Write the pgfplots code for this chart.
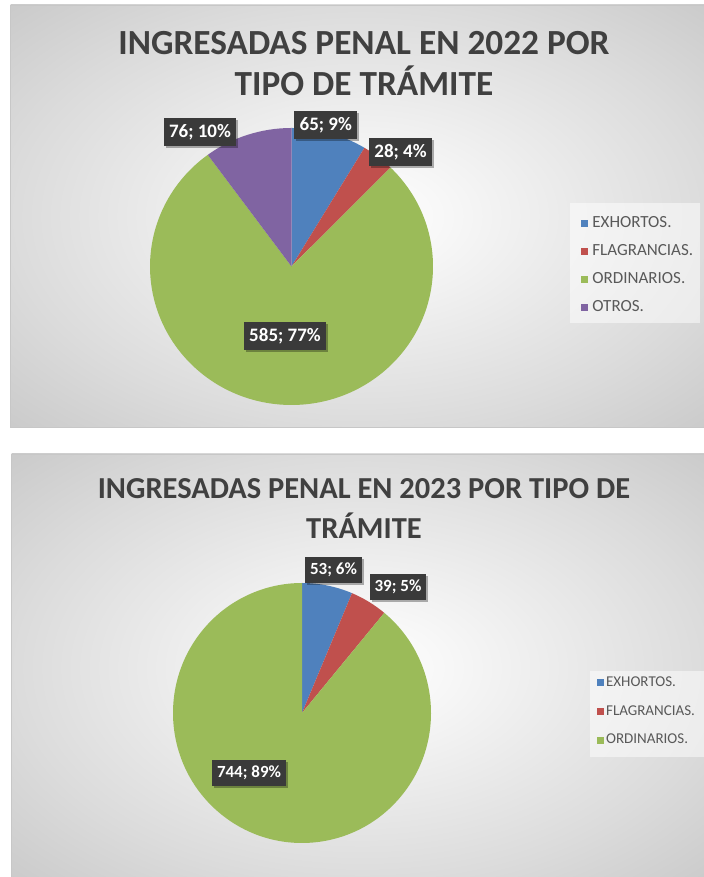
\documentclass[border=0pt]{standalone}
\usepackage{fontspec}
\setmainfont{Carlito}
\usepackage{pgfplots}
\pgfplotsset{compat=1.18}
\usepackage{pgfplotstable}
\usetikzlibrary{shadows}

\definecolor{cBlue}{HTML}{4F81BD}
\definecolor{cRed}{HTML}{C0504D}
\definecolor{cGreen}{HTML}{9BBB59}
\definecolor{cPurple}{HTML}{8064A2}
\definecolor{titlegray}{HTML}{404040}
\definecolor{leggray}{HTML}{595959}
\definecolor{labelbg}{HTML}{3A3A3A}

\pgfdeclareradialshading{panelshade}{\pgfpoint{0bp}{0bp}}{%
  color(0bp)=(white); color(6bp)=(white!97!black);
  color(25bp)=(white!86!black); color(36bp)=(white!79!black);
  color(50bp)=(white!79!black)}

% ---- data -------------------------------------------------------
\pgfplotstableread{
tipo value
EXHORTOS. 65
FLAGRANCIAS. 28
ORDINARIOS. 585
OTROS. 76
}\dataA

\pgfplotstableread{
tipo value
EXHORTOS. 53
FLAGRANCIAS. 39
ORDINARIOS. 744
}\dataB

% ---- slice angles from the data (Excel: start at 12 o'clock, clockwise)
\newcommand\pieangles[2]{%
  \pgfplotstablegetrowsof{#1}\edef\pieN{\pgfplotsretval}%
  \pgfmathsetmacro\pieTot{0}%
  \pgfplotsforeachungrouped \pieI in {1,...,\pieN}{%
    \pgfmathtruncatemacro\pieR{\pieI-1}%
    \pgfplotstablegetelem{\pieR}{value}\of{#1}%
    \pgfmathsetmacro\pieTot{\pieTot+\pgfplotsretval}%
  }%
  \pgfmathsetmacro\pieCum{0}%
  \pgfplotsforeachungrouped \pieI in {1,...,\pieN}{%
    \pgfmathtruncatemacro\pieR{\pieI-1}%
    \pgfplotstablegetelem{\pieR}{value}\of{#1}%
    \pgfmathsetmacro\pieS{90-360*(\pieCum/\pieTot)}%
    \pgfmathsetmacro\pieCum{\pieCum+\pgfplotsretval}%
    \pgfmathsetmacro\pieE{90-360*(\pieCum/\pieTot)}%
    \expandafter\xdef\csname #2s\pieR\endcsname{\pieS}%
    \expandafter\xdef\csname #2e\pieR\endcsname{\pieE}%
  }%
}
\pieangles{\dataA}{pa}
\pieangles{\dataB}{pb}
\newcommand\ang[1]{\csname #1\endcsname}

% \slice{colour}{cx}{cy}{rx}{ry}{start}{end}
\newcommand\slice[7]{%
  \fill[#1] (axis cs:#2,#3) -- (axis cs:{#2+#4*cos(#6)},{#3+#5*sin(#6)})
    arc[start angle=#6, end angle=#7, x radius=#4bp, y radius=#5bp] -- cycle;}

\tikzset{
  lblA/.style={fill=labelbg, text=white, font=\bfseries\fontsize{19bp}{19bp}\selectfont,
    inner xsep=5.5bp, inner ysep=0bp, minimum height=28bp,
    general shadow={fill=black, fill opacity=0.3, shadow xshift=2bp, shadow yshift=-2bp}},
  lblB/.style={fill=labelbg, text=white, font=\bfseries\fontsize{17bp}{17bp}\selectfont,
    inner xsep=5bp, inner ysep=0bp, minimum height=26bp,
    general shadow={fill=black, fill opacity=0.3, shadow xshift=2bp, shadow yshift=-2bp}},
}

\pgfplotsset{
  panel/.style={scale only axis, width=704bp, height=877bp,
    xmin=0, xmax=704, ymin=0, ymax=877, enlargelimits=false,
    hide axis, clip=false, legend cell align=left,
    legend image code/.code={\fill[##1, draw=none] (0bp,-3.6bp) rectangle (7.2bp,3.6bp);}},
}

\begin{document}
\begin{tikzpicture}
\path[use as bounding box, clip] (0,0) rectangle (704bp,877bp);
\fill[white] (0,0) rectangle (704bp,877bp);

% ================= 2022 =================
\begin{axis}[panel,
  legend style={at={(axis description cs:0.82528,0.75485)}, anchor=north west,
    draw=none, fill=none, inner sep=0pt, row sep=12bp,
    font=\fontsize{17bp}{17bp}\selectfont, text=leggray,
    nodes={inner sep=0pt, text height=12bp, text depth=4bp},
    /tikz/every odd column/.append style={column sep=4bp}}]
  \shade[shading=panelshade] (axis cs:10.5,449.5) rectangle (axis cs:712,872);
  \draw[white!78!black, line width=0.8bp] (axis cs:10.5,449.5) rectangle (axis cs:712,872);

  \node[font=\bfseries\fontsize{35.3bp}{35bp}\selectfont, text=titlegray, anchor=base]
    at (axis cs:364,822) {INGRESADAS PENAL EN 2022 POR};
  \node[font=\bfseries\fontsize{35.3bp}{35bp}\selectfont, text=titlegray, anchor=base]
    at (axis cs:364,781) {TIPO DE TRÁMITE};

  \fill[white, fill opacity=0.5] (axis cs:570,554) rectangle (axis cs:700,674);

  \slice{cBlue}{291.5}{610.5}{141.5}{138.5}{\ang{pas0}}{\ang{pae0}}
  \slice{cRed}{291.5}{610.5}{141.5}{138.5}{\ang{pas1}}{\ang{pae1}}
  \slice{cGreen}{291.5}{610.5}{141.5}{138.5}{\ang{pas2}}{\ang{pae2}}
  \slice{cPurple}{291.5}{610.5}{141.5}{138.5}{\ang{pas3}}{\ang{pae3}}

  \node[lblA] at (axis cs:325.8,751.5) {65; 9\%};
  \node[lblA] at (axis cs:400.5,725) {28; 4\%};
  \node[lblA] at (axis cs:200,744.5) {76; 10\%};
  \node[lblA] at (axis cs:285,541) {585; 77\%};

  \addlegendimage{fill=cBlue}\addlegendentry{EXHORTOS.}
  \addlegendimage{fill=cRed}\addlegendentry{FLAGRANCIAS.}
  \addlegendimage{fill=cGreen}\addlegendentry{ORDINARIOS.}
  \addlegendimage{fill=cPurple}\addlegendentry{OTROS.}
\end{axis}

% ================= 2023 =================
\begin{axis}[panel,
  legend style={at={(axis description cs:0.84759,0.23010)}, anchor=north west,
    draw=none, fill=none, inner sep=0pt, row sep=13.7bp,
    font=\fontsize{15bp}{15bp}\selectfont, text=leggray,
    nodes={inner sep=0pt, text height=11bp, text depth=4bp},
    /tikz/every odd column/.append style={column sep=2bp}}]
  \shade[shading=panelshade] (axis cs:11.5,-5) rectangle (axis cs:712,423);
  \draw[white!78!black, line width=0.8bp] (axis cs:11.5,-5) rectangle (axis cs:712,423);

  \node[font=\bfseries\fontsize{30.5bp}{30bp}\selectfont, text=titlegray, anchor=base]
    at (axis cs:364,378) {INGRESADAS PENAL EN 2023 POR TIPO DE};
  \node[font=\bfseries\fontsize{30.5bp}{30bp}\selectfont, text=titlegray, anchor=base]
    at (axis cs:364,338) {TRÁMITE};

  \fill[white, fill opacity=0.5] (axis cs:590,120) rectangle (axis cs:706,206);

  \slice{cBlue}{302}{164}{129}{130}{\ang{pbs0}}{\ang{pbe0}}
  \slice{cRed}{302}{164}{129}{130}{\ang{pbs1}}{\ang{pbe1}}
  \slice{cGreen}{302}{164}{129}{130}{\ang{pbs2}}{\ang{pbe2}}

  \node[lblB] at (axis cs:333.5,307.3) {53; 6\%};
  \node[lblB] at (axis cs:398,290) {39; 5\%};
  \node[lblB] at (axis cs:249,104) {744; 89\%};

  \addlegendimage{fill=cBlue}\addlegendentry{EXHORTOS.}
  \addlegendimage{fill=cRed}\addlegendentry{FLAGRANCIAS.}
  \addlegendimage{fill=cGreen}\addlegendentry{ORDINARIOS.}
\end{axis}
\end{tikzpicture}
\end{document}
